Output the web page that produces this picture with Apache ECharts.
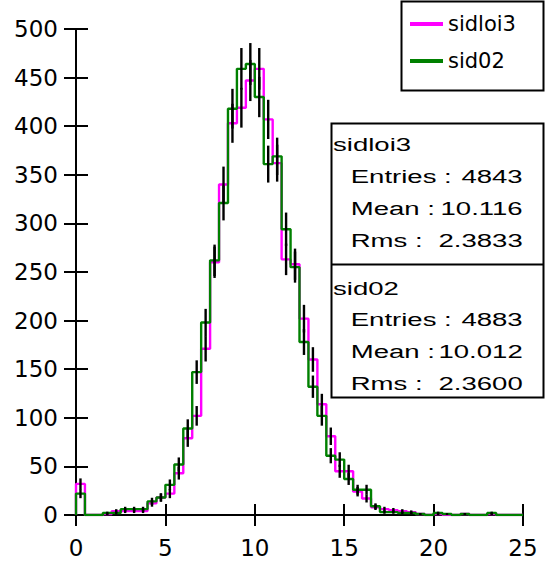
<!DOCTYPE html>
<html>
<head>
<meta charset="utf-8">
<script src="https://cdn.jsdelivr.net/npm/echarts@6/dist/echarts.min.js"></script>
<style>
  html, body { margin: 0; padding: 0; background: #fff; }
  #chart { width: 545px; height: 561px; }
</style>
</head>
<body>
<div id="chart"></div>
<script>
// Histogram binning: 50 bins of width 0.5 from 0 to 25
const binWidth = 0.5;
const xRange = [0, 25];
const xTickStep = 5;
const yRange = [0, 500];
const yTickStep = 50;

// Bin contents, one value per bin
const sidloi3Counts = [
  32, 0, 0, 1, 4, 4, 4, 4, 12, 18,
  22, 43, 79, 102, 171, 260, 340, 403, 419, 447,
  459, 407, 362, 263, 258, 202, 160, 114, 81, 45,
  45, 24, 17, 8, 6, 5, 4, 3, 1, 0,
  1, 0, 0, 1, 0, 0, 1, 0, 0, 0
];
const sid02Counts = [
  22, 0, 0, 2, 2, 6, 6, 6, 14, 18,
  31, 52, 89, 147, 198, 262, 321, 418, 459, 464,
  430, 361, 369, 294, 255, 178, 132, 102, 61, 57,
  37, 26, 26, 9, 3, 3, 2, 2, 1, 0,
  2, 1, 0, 1, 0, 0, 2, 0, 0, 0
];

const histNames = ['sidloi3', 'sid02'];
const histColors = ['#ff00ff', '#008000'];

// Statistics panel
const statEntries = ['4843', '4883'];
const statMeans = ['10.116', '10.012'];
const statRms = ['2.3833', '2.3600'];

// Outline of a histogram as step points at the bin edges
function outline(counts) {
  const pts = [[xRange[0], 0]];
  counts.forEach((c, i) => pts.push([xRange[0] + i * binWidth, c]));
  const end = xRange[0] + counts.length * binWidth;
  pts.push([end, counts[counts.length - 1]]);
  pts.push([end, 0]);
  return pts;
}

// Poisson error bars at bin centres
function errors(counts) {
  return counts
    .map((c, i) => [xRange[0] + (i + 0.5) * binWidth, c, Math.sqrt(c)])
    .filter(d => d[1] > 0);
}

function renderErrorBar(params, api) {
  const x = api.value(0), y = api.value(1), e = api.value(2);
  const lo = api.coord([x, Math.max(0, y - e)]);
  const hi = api.coord([x, y + e]);
  return {
    type: 'line',
    shape: { x1: lo[0], y1: lo[1], x2: hi[0], y2: hi[1] },
    style: { stroke: '#000', lineWidth: 2.4 }
  };
}

const axisFont = { fontSize: 23, fontFamily: 'DejaVu Sans', color: '#000' };
const black2 = { color: '#000', width: 2 };

// Stats box text, drawn with a horizontally widened face
const statFont = '19px "Liberation Sans", Arial, sans-serif';
const sx = 1.45;
function statText(str, x, y, align) {
  return {
    type: 'text', x: x, y: y, scaleX: sx, z: 20,
    style: {
      text: str, font: statFont, fill: '#000',
      align: align, textAlign: align,
      verticalAlign: 'middle', textVerticalAlign: 'middle'
    }
  };
}

const statGraphics = [
  { type: 'rect', z: 10, shape: { x: 331.5, y: 123.5, width: 212, height: 274 },
    style: { fill: '#fff', stroke: '#000', lineWidth: 2 } },
  { type: 'line', z: 11, shape: { x1: 331.5, y1: 264.5, x2: 543.5, y2: 264.5 },
    style: { stroke: '#000', lineWidth: 2 } },
  { type: 'rect', z: 10, shape: { x: 401.5, y: 1.5, width: 142, height: 89 },
    style: { fill: '#fff', stroke: '#000', lineWidth: 2 } }
];
const blockTops = [145, 288.3];
const rowStep = 31.7;
histNames.forEach((name, k) => {
  const y0 = blockTops[k];
  statGraphics.push(statText(name, 333, y0, 'left'));
  statGraphics.push(statText('Entries :', 350.7, y0 + rowStep, 'left'));
  statGraphics.push(statText(statEntries[k], 522.7, y0 + rowStep, 'right'));
  statGraphics.push(statText('Mean :', 350.7, y0 + 2 * rowStep, 'left'));
  statGraphics.push(statText(statMeans[k], 522.7, y0 + 2 * rowStep, 'right'));
  statGraphics.push(statText('Rms :', 350.7, y0 + 3 * rowStep, 'left'));
  statGraphics.push(statText(statRms[k], 522.7, y0 + 3 * rowStep, 'right'));
});

const chart = echarts.init(document.getElementById('chart'), null, { renderer: 'svg' });

chart.setOption({
  backgroundColor: '#fff',
  animation: false,
  grid: { left: 76, right: 22, top: 29, bottom: 46 },
  legend: {
    orient: 'vertical',
    left: 410, top: 12,
    padding: 0,
    itemWidth: 33, itemHeight: 4, itemGap: 13, itemTextGap: 9,
    icon: 'rect',
    z: 30,
    data: histNames,
    textStyle: { fontSize: 21, lineHeight: 24, fontFamily: 'DejaVu Sans', color: '#000' }
  },
  graphic: statGraphics,
  xAxis: [
    {
      type: 'value', min: xRange[0], max: xRange[1], interval: xTickStep,
      position: 'bottom',
      axisLine: { onZero: false, lineStyle: black2 },
      axisTick: { length: 11, lineStyle: black2 },
      axisLabel: Object.assign({ margin: 21 }, axisFont),
      splitLine: { show: false }
    },
    {
      type: 'value', min: xRange[0], max: xRange[1], interval: xTickStep,
      position: 'bottom',
      axisLine: { show: false, onZero: false },
      axisTick: { inside: true, length: 11, lineStyle: black2 },
      axisLabel: { show: false },
      splitLine: { show: false }
    }
  ],
  yAxis: [
    {
      type: 'value', min: yRange[0], max: yRange[1], interval: yTickStep,
      position: 'left',
      axisLine: { show: true, onZero: false, lineStyle: black2 },
      axisTick: { show: true, length: 12, lineStyle: black2 },
      axisLabel: Object.assign({ margin: 18 }, axisFont),
      splitLine: { show: false }
    },
    {
      type: 'value', min: yRange[0], max: yRange[1], interval: yTickStep,
      position: 'left',
      axisLine: { show: false, onZero: false },
      axisTick: { show: true, inside: true, length: 12, lineStyle: black2 },
      axisLabel: { show: false },
      splitLine: { show: false }
    }
  ],
  series: [
    {
      name: histNames[0], type: 'line', step: 'end', symbol: 'none',
      data: outline(sidloi3Counts),
      itemStyle: { color: histColors[0] },
      lineStyle: { color: histColors[0], width: 2.4 }, z: 3
    },
    {
      name: histNames[1], type: 'line', step: 'end', symbol: 'none',
      data: outline(sid02Counts),
      itemStyle: { color: histColors[1] },
      lineStyle: { color: histColors[1], width: 2.4 }, z: 4
    },
    {
      name: histNames[0] + ' errors', type: 'custom',
      renderItem: renderErrorBar, data: errors(sidloi3Counts),
      encode: { x: 0, y: 1 }, z: 5, silent: true
    },
    {
      name: histNames[1] + ' errors', type: 'custom',
      renderItem: renderErrorBar, data: errors(sid02Counts),
      encode: { x: 0, y: 1 }, z: 5, silent: true
    }
  ]
});
</script>
</body>
</html>
